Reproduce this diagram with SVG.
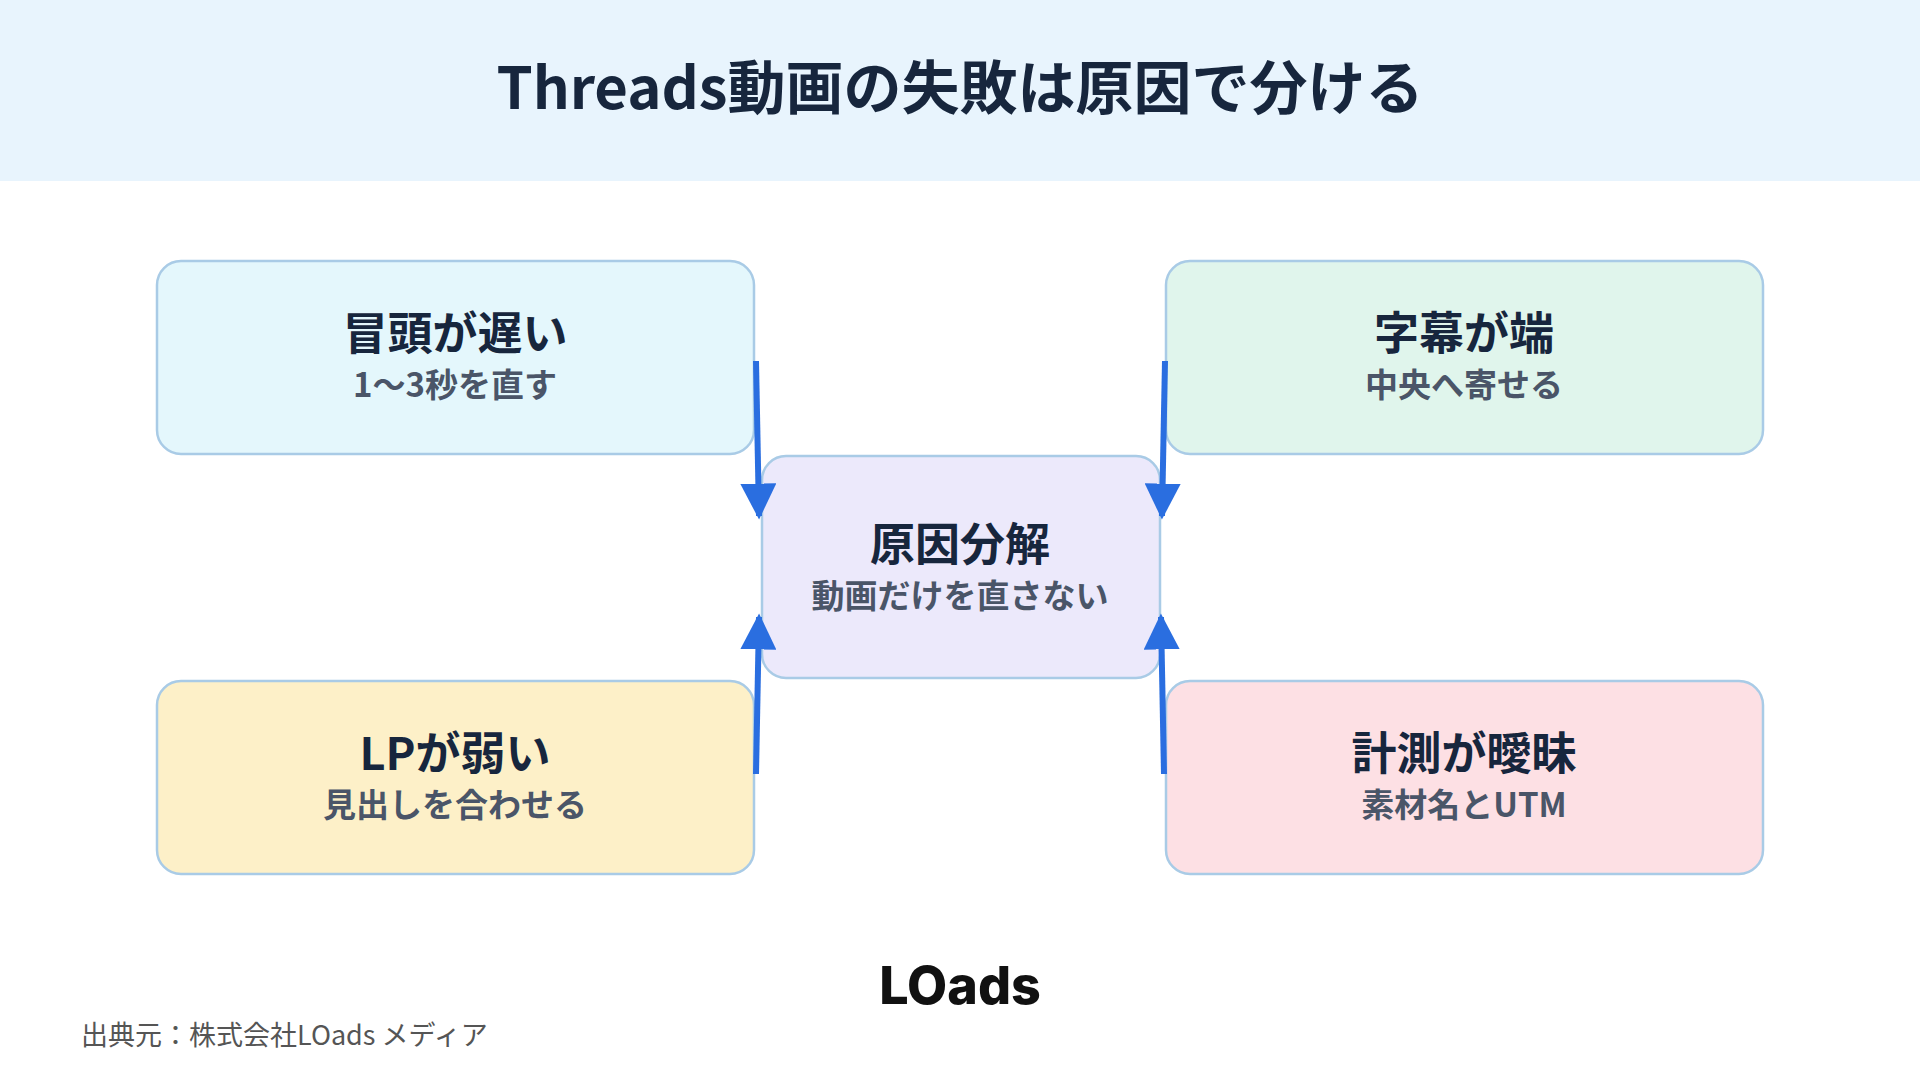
<svg xmlns="http://www.w3.org/2000/svg" width="1920" height="1080" viewBox="0 0 1920 1080">
<style>
.t{font-family:"Noto Sans CJK JP","Noto Sans",sans-serif;font-weight:700;text-anchor:middle}
.h{font-size:45px;fill:#17263d}
.s{font-size:33px;fill:#4a5568}
.box{stroke:#a9cbe6;stroke-width:2.5}
.c{stroke:#2a6ee0;stroke-width:6;fill:none}
</style>
<defs><marker id="a" viewBox="0 0 10 10" refX="9" refY="5" markerWidth="6" markerHeight="6" markerUnits="strokeWidth" orient="auto"><path d="M0,0 L10,5 L0,10 z" fill="#2a6ee0"/></marker></defs>
<rect width="1920" height="1080" fill="#fff"/>
<rect width="1920" height="181" fill="#e8f4fd"/>
<text class="t" x="960" y="109" font-size="58" fill="#17263d">Threads動画の失敗は原因で分ける</text>
<g id="n1"><rect class="box" x="157" y="261" width="597" height="193" rx="24" fill="#e4f7fc"/><text class="t h" x="455" y="350">冒頭が遅い</text><text class="t s" x="455" y="397">1〜3秒を直す</text></g>
<g id="n2"><rect class="box" x="1166" y="261" width="597" height="193" rx="24" fill="#e0f5ec"/><text class="t h" x="1464" y="350">字幕が端</text><text class="t s" x="1464" y="397">中央へ寄せる</text></g>
<g id="n3"><rect class="box" x="157" y="681" width="597" height="193" rx="24" fill="#fdf0c8"/><text class="t h" x="455" y="770">LPが弱い</text><text class="t s" x="455" y="817">見出しを合わせる</text></g>
<g id="n4"><rect class="box" x="1166" y="681" width="597" height="193" rx="24" fill="#fde0e4"/><text class="t h" x="1464" y="770">計測が曖昧</text><text class="t s" x="1464" y="817">素材名とUTM</text></g>
<g id="center"><rect class="box" x="762" y="456" width="398" height="222" rx="24" fill="#ece9fb"/><text class="t h" x="960" y="561">原因分解</text><text class="t s" x="960" y="608">動画だけを直さない</text></g>
<g id="connectors">
<path class="c" d="M756,361 L759,516" marker-end="url(#a)"/>
<path class="c" d="M1165,361 L1162,516" marker-end="url(#a)"/>
<path class="c" d="M756,774 L759,617" marker-end="url(#a)"/>
<path class="c" d="M1164,774 L1161,617" marker-end="url(#a)"/>
</g>
<text x="960" y="1004" text-anchor="middle" font-family="Inter,'Noto Sans',sans-serif" font-weight="800" font-size="52" fill="#111">LOads</text>
<text x="81" y="1045" font-family="'Noto Sans CJK JP',sans-serif" font-size="27" fill="#555">出典元：株式会社LOads メディア</text>
</svg>
